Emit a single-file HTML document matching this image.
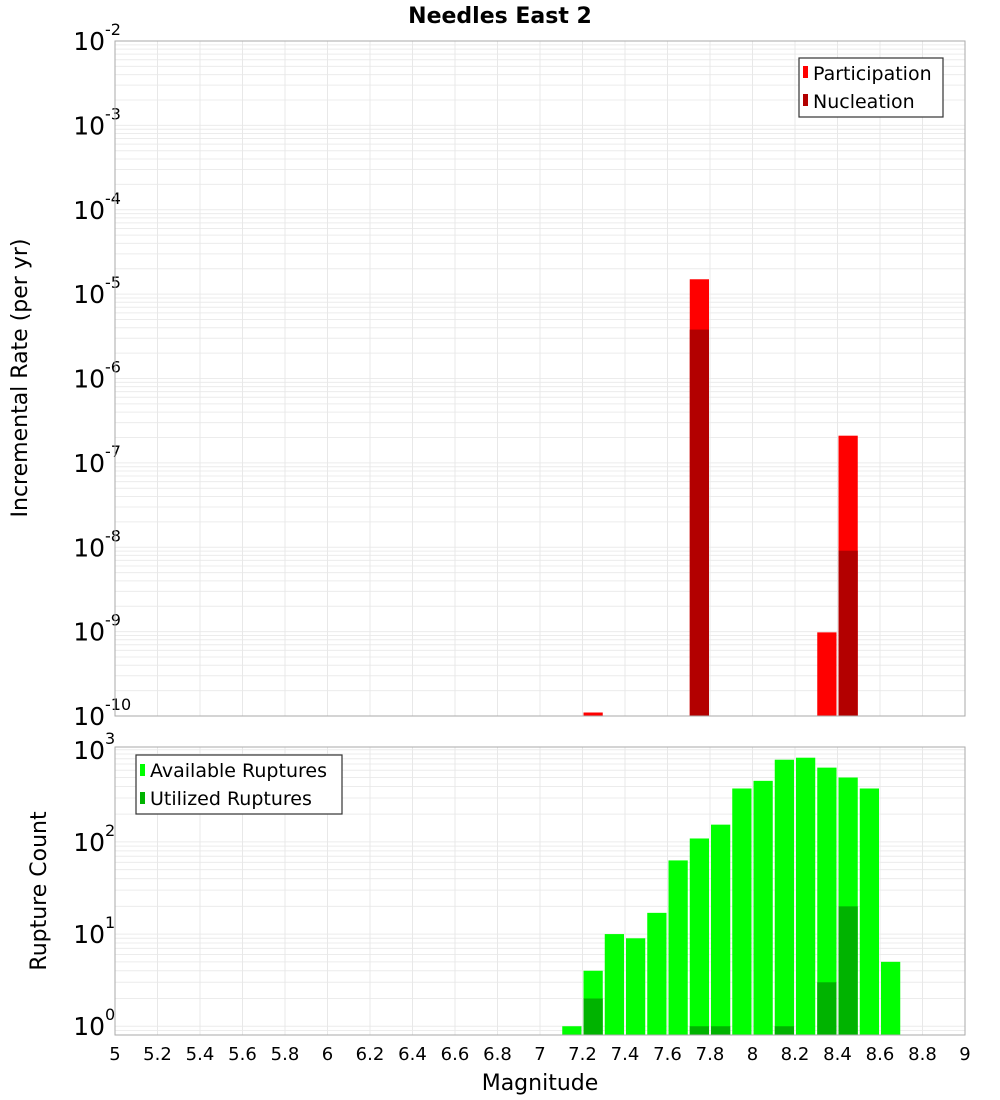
<!DOCTYPE html>
<html><head><meta charset="utf-8"><style>
body{margin:0;background:#fff}
svg{display:block;font-family:"DejaVu Sans","Liberation Sans",sans-serif}
</style></head><body>
<svg id="chart" width="1000" height="1100" xmlns="http://www.w3.org/2000/svg">
<text x="500" y="23" text-anchor="middle" font-weight="bold" font-size="22">Needles East 2</text>
<g id="topPanel"></g>
<g id="botPanel"></g>
<text transform="translate(27,378) rotate(-90)" text-anchor="middle" font-size="22">Incremental Rate (per yr)</text>
<text transform="translate(46,891) rotate(-90)" text-anchor="middle" font-size="22">Rupture Count</text>
<text x="540" y="1090" text-anchor="middle" font-size="22">Magnitude</text>
<g>
<rect x="799" y="58" width="144" height="59" fill="#fff" stroke="#333" stroke-width="1.2"/>
<rect x="803" y="66" width="5" height="12" fill="#ff0000"/>
<text x="813" y="80" font-size="19">Participation</text>
<rect x="803" y="94" width="5" height="12" fill="#b30000"/>
<text x="813" y="108" font-size="19">Nucleation</text>
</g>
<g>
<rect x="136" y="755" width="206" height="59" fill="#fff" stroke="#333" stroke-width="1.2"/>
<rect x="140" y="764" width="5" height="12" fill="#00ff00"/>
<text x="150" y="777" font-size="19">Available Ruptures</text>
<rect x="140" y="792" width="5" height="12" fill="#00b300"/>
<text x="150" y="805" font-size="19">Utilized Ruptures</text>
</g>
</svg>
<script>
const mags=[7.15,7.25,7.35,7.45,7.55,7.65,7.75,7.85,7.95,8.05,8.15,8.25,8.35,8.45,8.55,8.65];
const available=[1,4,10,9,17,63,109,154,380,460,780,820,640,500,380,5];
const utilized=[0,2,0,0,0,0,1,1,0,0,1,0,3,20,0,0];
const rateMags=[7.25,7.75,8.35,8.45];
const participation=[1.1e-10,1.5e-5,9.8e-10,2.1e-7];
const nucleation=[0,3.8e-6,0,9.1e-9];
const xTicks=[5,5.2,5.4,5.6,5.8,6,6.2,6.4,6.6,6.8,7,7.2,7.4,7.6,7.8,8,8.2,8.4,8.6,8.8,9];
const rateExps=[-2,-3,-4,-5,-6,-7,-8,-9,-10];
const countExps=[0,1,2,3];
const NS='http://www.w3.org/2000/svg';
const X0=115,X1=965,binW=0.1;
const xs=m=>X0+(m-5)/4*(X1-X0);
function mk(p,t,a){const e=document.createElementNS(NS,t);for(const k in a)e.setAttribute(k,a[k]);p.appendChild(e);return e;}
function panel(g,t0,b0,lmin,lmax,exps){
 const y=v=>b0-(Math.log10(v)-lmin)/(lmax-lmin)*(b0-t0);
 for(let d=Math.floor(lmin);d<lmax;d++)for(let k=1;k<10;k++){const l=d+Math.log10(k);if(l<lmin||l>lmax)continue;
  const ln=mk(g,'line',{x1:X0,x2:X1,y1:y(Math.pow(10,l)),y2:y(Math.pow(10,l)),stroke:'#ececec','stroke-width':1});
  
  }
 xTicks.forEach(t=>{const ln=mk(g,'line',{x1:xs(t),x2:xs(t),y1:t0,y2:b0,stroke:'#e8e8e8','stroke-width':1});
  
  });
 exps.forEach(e=>{const yy=y(Math.pow(10,e));
  const t=mk(g,'text',{x:105,y:yy+9,'text-anchor':'end','font-size':25});
  
  
  t.textContent='10';
  const s=mk(g,'text',{x:105,y:yy-6,'font-size':16});
  
  
  s.textContent=String(e);});
 return y;}
const topG=document.getElementById('topPanel'),botG=document.getElementById('botPanel');
const bw=xs(5+binW)-X0-2;
const yT=panel(topG,41,716,-10,-2,rateExps);
participation.forEach((v,i)=>{if(v<=0)return;const r=mk(topG,'rect',{x:xs(rateMags[i]-binW/2)+1,width:bw,y:yT(v),height:716-yT(v),fill:'#ff0000'});
 
 });
nucleation.forEach((v,i)=>{if(v<=0)return;const r=mk(topG,'rect',{x:xs(rateMags[i]-binW/2)+1,width:bw,y:yT(v),height:716-yT(v),fill:'#b30000'});
 
 });
mk(topG,'rect',{x:X0,y:41,width:X1-X0,height:675,fill:'none',stroke:'#aaa','stroke-width':1});
const yB=panel(botG,747,1035,-0.095,3.03,countExps);
available.forEach((v,i)=>{if(v<=0)return;const r=mk(botG,'rect',{x:xs(mags[i]-binW/2)+1,width:bw,y:yB(v),height:1035-yB(v),fill:'#00ff00'});
 
 });
utilized.forEach((v,i)=>{if(v<=0)return;const r=mk(botG,'rect',{x:xs(mags[i]-binW/2)+1,width:bw,y:yB(v),height:1035-yB(v),fill:'#00b300'});
 
 });
mk(botG,'rect',{x:X0,y:747,width:X1-X0,height:288,fill:'none',stroke:'#aaa','stroke-width':1});
xTicks.forEach(t=>{const e=mk(botG,'text',{x:xs(t),y:1060,'text-anchor':'middle','font-size':18});
 
 
 e.textContent=String(t);});
</script>
</body></html>
